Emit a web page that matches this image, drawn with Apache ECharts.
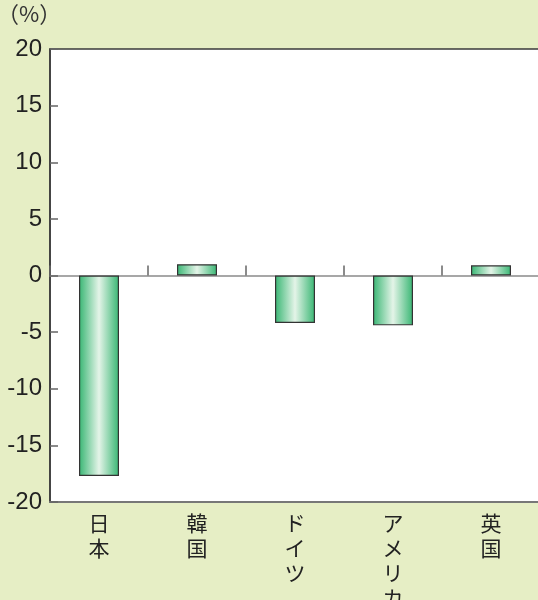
<!DOCTYPE html>
<html><head><meta charset="utf-8">
<script src="https://cdn.jsdelivr.net/npm/echarts@6/dist/echarts.min.js"></script>
<style>html,body{margin:0;padding:0;background:#e6eec5;}#c{width:538px;height:600px;}</style>
</head><body><div id="c"></div>
<script>
const categories = ['日本','韓国','ドイツ','アメリカ','英国'];
const values = [-17.7, 1.0, -4.2, -4.4, 0.9];
const yTicks = {min:-20, max:20, interval:5};
const unitLabel = '（%）';

const chart = echarts.init(document.getElementById('c'), null, {renderer:'canvas'});
chart.setOption({
  backgroundColor:'#e6eec5',
  animation:false,
  graphic:[{type:'text', left:-3, top:3, style:{text:unitLabel, font:'22px "Noto Sans CJK JP"', fill:'#333'}}],
  grid:{left:50, top:49, width:490, height:453, outerBoundsMode:'none', containLabel:false, show:true, backgroundColor:'#ffffff', borderColor:'#3a3a3a', borderWidth:1.5},
  xAxis:[{
    type:'category', data:categories, position:'bottom',
    axisLine:{show:true, onZero:false, lineStyle:{color:'#777', width:2}},
    axisTick:{show:false},
    axisLabel:{margin:9, fontSize:21, lineHeight:25, color:'#222', fontFamily:'Noto Sans CJK JP', verticalAlign:'top',
      formatter:v=>v.split('').join('\n')}
  },{
    type:'category', data:categories, position:'bottom',
    axisLine:{show:true, onZero:true, lineStyle:{color:'#8a8a8a', width:1.5}},
    axisTick:{show:true, inside:true, length:10, lineStyle:{color:'#666', width:1.5}},
    axisLabel:{show:false}
  }],
  yAxis:{
    type:'value', min:yTicks.min, max:yTicks.max, interval:yTicks.interval,
    axisLine:{show:true, lineStyle:{color:'#3a3a3a', width:1.5}},
    axisTick:{show:true, inside:true, length:8, lineStyle:{color:'#666', width:1.5}},
    splitLine:{show:false},
    axisLabel:{margin:8, fontSize:24, color:'#222', fontFamily:'Liberation Sans'}
  },
  series:[{
    type:'bar', data:values, barWidth:40, xAxisIndex:0,
    itemStyle:{
      borderColor:'#333', borderWidth:1.2,
      color:new echarts.graphic.LinearGradient(0,0,1,0,[
        {offset:0, color:'#38b673'},
        {offset:0.5, color:'#e4f4e8'},
        {offset:1, color:'#38b673'}
      ])
    }
  }]
});
</script></body></html>
